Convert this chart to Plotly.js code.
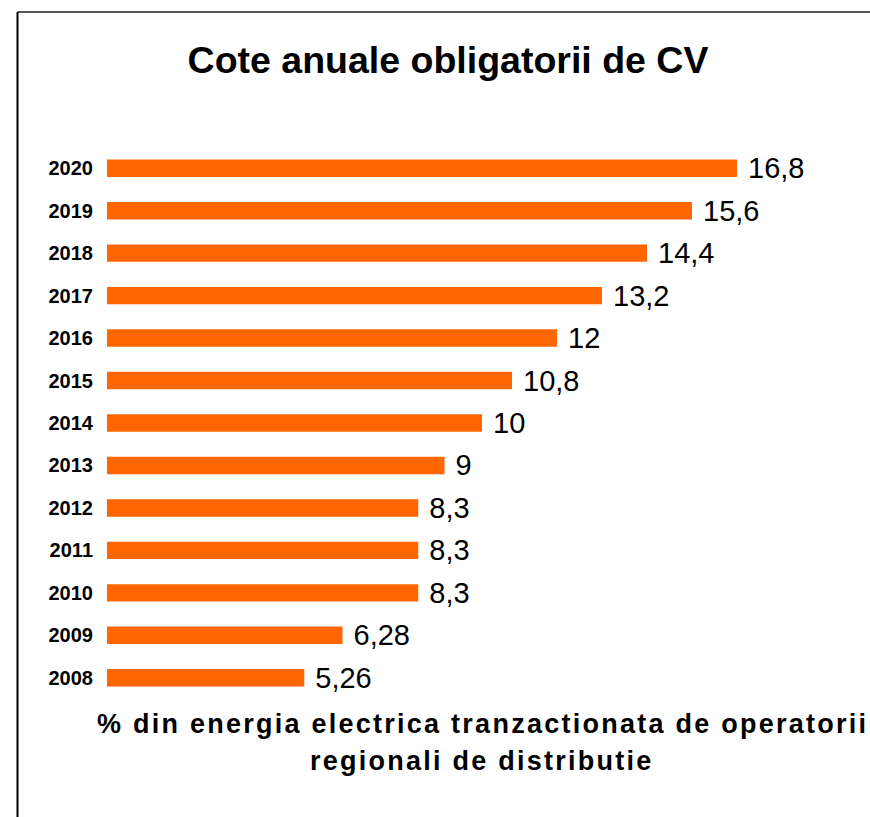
<!DOCTYPE html>
<html>
<head>
<meta charset="utf-8">
<script src="https://cdn.plot.ly/plotly-3.0.1.min.js"></script>
<style>
  html, body { margin: 0; padding: 0; background: #fff; }
  #chart { width: 870px; height: 817px; }
  .annotation-text { letter-spacing: 2.25px; }
</style>
</head>
<body>
<div id="chart"></div>
<script>
// ---- data ----
const years = ['2008','2009','2010','2011','2012','2013','2014','2015','2016','2017','2018','2019','2020'];
const quotas = [5.26, 6.28, 8.3, 8.3, 8.3, 9, 10, 10.8, 12, 13.2, 14.4, 15.6, 16.8];
const chartTitle = 'Cote anuale obligatorii de CV';
const axisTitleLines = ['% din energia electrica tranzactionata de operatorii', 'regionali de distributie'];

const labels = quotas.map(v => '\u00a0' + String(v).replace('.', ','));

const W = 870, H = 817;
const L = 107, R = 13, T = 147, B = 118;
const plotW = W - L - R, plotH = H - T - B;
const px = x => (x - L) / plotW;          // pixel -> paper x
const py = y => (H - B - y) / plotH;      // pixel -> paper y

const trace = {
  type: 'bar',
  orientation: 'h',
  x: quotas,
  y: years,
  width: 0.41,
  marker: { color: '#FF6600', line: { width: 0 } },
  text: labels,
  textposition: 'outside',
  constraintext: 'none',
  cliponaxis: false,
  textfont: { family: 'Liberation Sans, Arial, sans-serif', size: 29, color: '#000' },
  hoverinfo: 'skip'
};

const layout = {
  width: W, height: H,
  margin: { l: L, r: R, t: T, b: B, pad: 0 },
  paper_bgcolor: '#fff',
  plot_bgcolor: '#fff',
  showlegend: false,
  title: {
    text: chartTitle,
    font: { family: 'Liberation Sans, Arial, sans-serif', size: 37.5, weight: 700, color: '#000' },
    xref: 'paper', x: px(448), xanchor: 'center',
    yref: 'container', y: 1 - 60 / H, yanchor: 'middle'
  },
  xaxis: {
    range: [0, 20],
    showgrid: false, zeroline: false, showline: false,
    showticklabels: false, ticks: ''
  },
  yaxis: {
    type: 'category',
    categoryorder: 'array', categoryarray: years,
    range: [-0.5, years.length - 0.5],
    showgrid: false, zeroline: false, showline: false,
    ticks: 'outside', ticklen: 9, tickcolor: 'rgba(0,0,0,0)',
    tickfont: { family: 'Liberation Sans, Arial, sans-serif', size: 20, weight: 700, color: '#000' }
  },
  annotations: axisTitleLines.map((t, i) => ({
    text: t,
    xref: 'paper', yref: 'paper',
    x: px(482), y: py(724 + i * 37),
    xanchor: 'center', yanchor: 'middle',
    showarrow: false,
    font: { family: 'Liberation Sans, Arial, sans-serif', size: 27, weight: 700, color: '#000' }
  })),
  shapes: [
    { type: 'line', xref: 'paper', yref: 'paper', x0: px(17.5), x1: px(17.5), y0: py(12), y1: py(H + 5),
      line: { color: '#000', width: 2 } },
    { type: 'line', xref: 'paper', yref: 'paper', x0: px(17.5), x1: px(W + 5), y0: py(12), y1: py(12),
      line: { color: '#222', width: 1.5 } }
  ]
};

Plotly.newPlot('chart', [trace], layout, { displayModeBar: false, staticPlot: true });
</script>
</body>
</html>
